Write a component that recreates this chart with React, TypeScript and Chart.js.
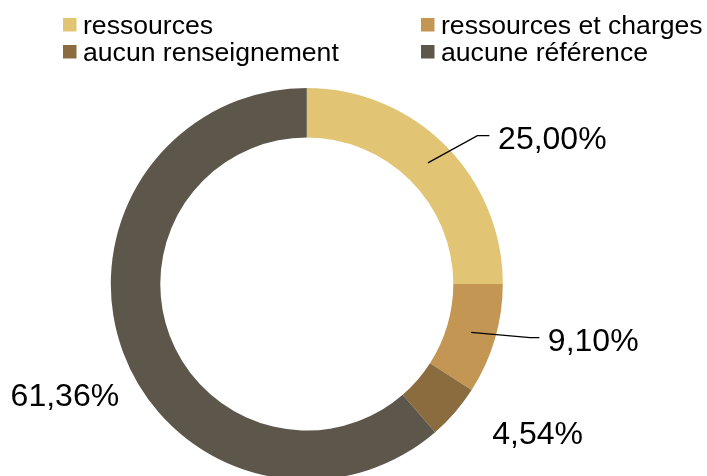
import React, { useEffect, useRef } from "react";
import { Chart, registerables } from "chart.js";

Chart.register(...registerables);

// ---- Data ----
const categories = ["ressources", "ressources et charges", "aucun renseignement", "aucune référence"];
const shares = [25.0, 9.1, 4.54, 61.36];
const valueLabels = ["25,00%", "9,10%", "4,54%", "61,36%"];
const colors = ["#E1C574", "#C39653", "#8A6C3F", "#5D564B"];

// ---- Label placement (offsets from the outer-edge point at each slice's mid angle) ----
type Placement = { tx: number; ty: number; align: CanvasTextAlign; leader?: [number, number, number, number] };
const placements: Placement[] = [
  { tx: 52.7, ty: 3.9, align: "left", leader: [32, -9.7, 44, -9.7] },
  { tx: 53, ty: 11.4, align: "left", leader: [35.3, -1.6, 44.6, -1.6] },
  { tx: 37.4, ty: 31.7, align: "left" },
  { tx: -4, ty: 53.1, align: "right" },
];

const FONT = '"Liberation Sans", Arial, Helvetica, sans-serif';

const labelPlugin = {
  id: "sliceLabels",
  afterDatasetsDraw(chart: any) {
    const ctx: CanvasRenderingContext2D = chart.ctx;
    const meta = chart.getDatasetMeta(0);
    meta.data.forEach((arc: any, i: number) => {
      const p = arc.getProps(["x", "y", "startAngle", "endAngle", "innerRadius", "outerRadius"], true);
      const mid = (p.startAngle + p.endAngle) / 2;
      const midR = (p.innerRadius + p.outerRadius) / 2;
      const ox = p.x + Math.cos(mid) * p.outerRadius;
      const oy = p.y + Math.sin(mid) * p.outerRadius;
      const pl = placements[i];
      ctx.save();
      if (pl.leader) {
        ctx.beginPath();
        ctx.strokeStyle = "#000";
        ctx.lineWidth = 1.3;
        ctx.moveTo(p.x + Math.cos(mid) * midR, p.y + Math.sin(mid) * midR);
        ctx.lineTo(ox + pl.leader[0], oy + pl.leader[1]);
        ctx.lineTo(ox + pl.leader[2], oy + pl.leader[3]);
        ctx.stroke();
      }
      ctx.fillStyle = "#000";
      ctx.font = `32px ${FONT}`;
      ctx.textAlign = pl.align;
      ctx.textBaseline = "alphabetic";
      ctx.fillText(valueLabels[i], ox + pl.tx, oy + pl.ty);
      ctx.restore();
    });
  },
};

const legendPlugin = {
  id: "gridLegend",
  afterDraw(chart: any) {
    const ctx: CanvasRenderingContext2D = chart.ctx;
    const labels: string[] = chart.data.labels;
    const bg: string[] = chart.data.datasets[0].backgroundColor;
    const colX = [63, 421];
    const rowY = [34, 61];
    ctx.save();
    ctx.font = `26.6px ${FONT}`;
    ctx.textBaseline = "alphabetic";
    ctx.textAlign = "left";
    labels.forEach((lab, i) => {
      const c = i % 2;
      const r = Math.floor(i / 2);
      const bx = colX[c];
      const by = rowY[r];
      ctx.fillStyle = bg[i];
      ctx.fillRect(bx, by - 16, 13.5, 13.5);
      ctx.fillStyle = "#000";
      ctx.fillText(lab, bx + 20, by);
    });
    ctx.restore();
  },
};

export default function App() {
  const ref = useRef<HTMLCanvasElement | null>(null);
  useEffect(() => {
    if (!ref.current) return;
    const chart = new Chart(ref.current, {
      type: "doughnut",
      data: {
        labels: categories,
        datasets: [
          {
            data: shares,
            backgroundColor: colors,
            borderWidth: 0,
            hoverBorderWidth: 0,
            hoverOffset: 0,
            offset: 0,
          } as any,
        ],
      },
      options: {
        responsive: false,
        maintainAspectRatio: false,
        animation: false,
        cutout: "74.75%",
        layout: { padding: { top: 88, left: 0, right: 93.4, bottom: 0 } },
        plugins: {
          legend: { display: false },
          tooltip: { enabled: false },
        },
        events: [],
      } as any,
      plugins: [labelPlugin, legendPlugin],
    });
    return () => chart.destroy();
  }, []);
  return (
    <div
      style={{
        position: "fixed",
        left: 0,
        top: 0,
        width: 707,
        height: 476,
        overflow: "hidden",
        background: "#fff",
      }}
    >
      <canvas ref={ref} width={707} height={480} style={{ display: "block", width: 707, height: 480 }} />
    </div>
  );
}
